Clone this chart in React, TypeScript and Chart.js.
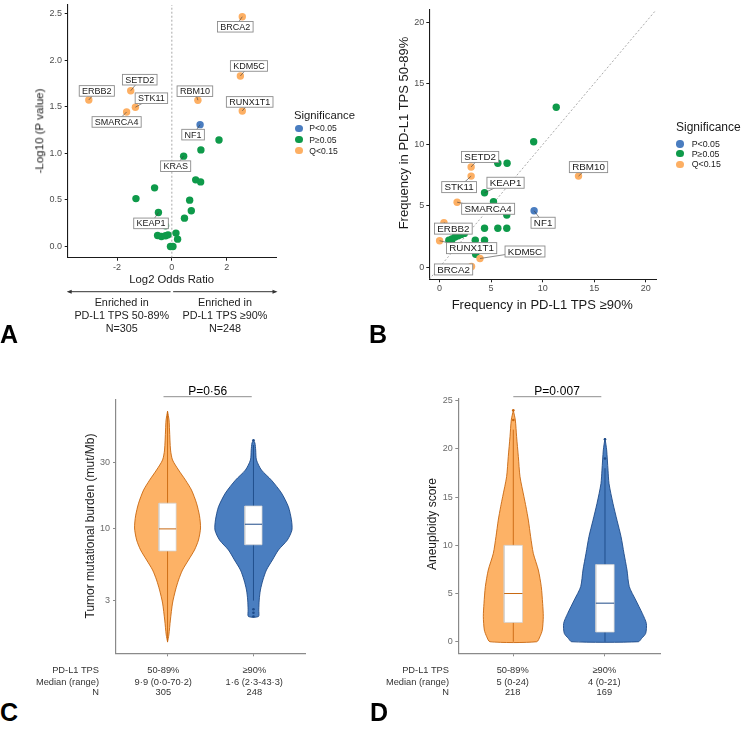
import React, { useEffect, useRef } from "react";
import { Chart, registerables } from "chart.js";

Chart.register(...registerables);

const FONT = "'Liberation Sans', Arial, Helvetica, sans-serif";

// ================= DATA =================
const SIG_LEVELS = ["P<0.05", "P≥0.05", "Q<0.15"];

// Panel A – volcano (log2 odds ratio vs -log10 P)
const A_GENE = [
  "", "", "KRAS", "", "", "", "", "", "", "KEAP1", "", "", "", "", "", "", "", "", "", "",
  "NF1",
  "BRCA2", "KDM5C", "RUNX1T1", "RBM10", "ERBB2", "SETD2", "STK11", "SMARCA4",
];
const A_LOG2_OR = [
  1.72, 1.06, 0.43, 0.87, 1.05, -0.63, -1.31, 0.65, 0.71, -0.49, 0.46, -0.23, 0.15, -0.52, -0.38, -0.23, -0.14, 0.21, -0.05, 0.04,
  1.03,
  2.57, 2.5, 2.57, 0.95, -3.03, -1.5, -1.33, -1.65,
];
const A_NEG_LOG10_P = [
  1.143, 1.036, 0.969, 0.715, 0.693, 0.629, 0.514, 0.497, 0.383, 0.364, 0.304, 0.222, 0.144, 0.118, 0.107, 0.115, 0.125, 0.079, 0.0, 0.0,
  1.307,
  2.464, 1.829, 1.454, 1.569, 1.572, 1.671, 1.494, 1.443,
];
const A_SIG = [
  1, 1, 1, 1, 1, 1, 1, 1, 1, 1, 1, 1, 1, 1, 1, 1, 1, 1, 1, 1,
  0,
  2, 2, 2, 2, 2, 2, 2, 2,
];
const A_X_RANGE = [-3.8, 3.8];
const A_Y_RANGE = [-0.12, 2.59];
const A_X_TICKS = [-2, 0, 2];
const A_X_TICK_LABELS = ["-2", "0", "2"];
const A_Y_TICKS = [0, 0.5, 1, 1.5, 2, 2.5];
const A_Y_TICK_LABELS = ["0.0", "0.5", "1.0", "1.5", "2.0", "2.5"];

// Panel B – frequency in TPS >=90% vs TPS 50-89%
const B_GENE = [
  "", "", "", "", "KEAP1", "", "", "", "", "", "", "", "", "", "", "", "", "", "", "",
  "NF1",
  "SETD2", "STK11", "RBM10", "SMARCA4", "ERBB2", "RUNX1T1", "KDM5C", "BRCA2",
];
const B_FREQ_HIGH = [
  11.32, 9.13, 5.65, 6.55, 4.36, 5.23, 6.52, 4.36, 5.65, 6.52, 3.46, 4.36, 3.5, 0.9, 1.2, 1.5, 1.8, 2.1, 2.4, 1.15,
  9.17,
  3.06, 3.06, 13.48, 1.7, 0.42, 0.0, 3.92, 3.1,
];
const B_FREQ_LOW = [
  13.06, 10.24, 8.48, 8.48, 6.07, 5.33, 4.25, 3.17, 3.17, 3.17, 2.2, 2.2, 1.05, 2.2, 2.3, 2.45, 2.55, 2.65, 2.75, 2.1,
  4.6,
  8.18, 7.43, 7.43, 5.3, 3.63, 2.15, 0.7, 0.05,
];
const B_SIG = [
  1, 1, 1, 1, 1, 1, 1, 1, 1, 1, 1, 1, 1, 1, 1, 1, 1, 1, 1, 1,
  0,
  2, 2, 2, 2, 2, 2, 2, 2,
];
const B_RANGE = [-1, 21];
const B_TICKS = [0, 5, 10, 15, 20];
const B_TICK_LABELS = ["0", "5", "10", "15", "20"];

// Panel C – TMB violins (log scale)
const C_GROUPS = ["50-89%", "≥90%"];
const C_MEDIAN_RANGE = ["9·9 (0·0-70·2)", "1·6 (2·3-43·3)"];
const C_N = ["305", "248"];
const TMB_LOW_VALUES = [70.2, 60.7, 51.4, 36.8, 31.2, 26.4, 22.3, 18.9, 15.2, 12.3, 10.05, 8.23, 6.97, 5.9, 4.99, 4.23, 3.58, 2.88, 2.17, 1.69, 1.51];
const TMB_LOW_HALF = [0, 0.017, 0.023, 0.035, 0.058, 0.128, 0.209, 0.279, 0.337, 0.372, 0.384, 0.36, 0.314, 0.244, 0.174, 0.128, 0.093, 0.058, 0.033, 0.015, 0];
const TMB_HIGH_VALUES = [43.3, 41.4, 36.8, 31.2, 26.4, 22.3, 18.0, 14.3, 11.5, 9.72, 8.23, 6.97, 5.9, 4.99, 4.23, 3.58, 3.03, 2.57, 2.3];
const TMB_HIGH_HALF = [0, 0.017, 0.026, 0.035, 0.093, 0.209, 0.326, 0.407, 0.442, 0.448, 0.395, 0.291, 0.221, 0.151, 0.11, 0.081, 0.067, 0.062, 0.058];
const TMB_BOX_LOW = [6.85, 9.9, 15.2];
const TMB_BOX_HIGH = [7.6, 10.7, 14.5];
const TMB_WHISKER_LOW = [1.5, 70.2];
const TMB_WHISKER_HIGH = [3.0, 40];
const TMB_OUTLIERS_LOW: number[] = [];
const TMB_OUTLIERS_HIGH = [43.3, 2.6, 2.45, 2.3];
const C_Y_RANGE = [1.247, 84.7];
const C_Y_TICKS = [3, 10, 30];
const C_Y_TICK_LABELS = ["3", "10", "30"];
const C_P_TEXT = "P=0·56";

// Panel D – aneuploidy violins
const D_GROUPS = ["50-89%", "≥90%"];
const D_MEDIAN_RANGE = ["5 (0-24)", "4 (0-21)"];
const D_N = ["218", "169"];
const ANEU_LOW_VALUES = [24.0, 23.0, 21.27, 19.2, 17.12, 15.05, 14.0, 12.62, 10.9, 9.17, 7.44, 5.71, 3.97, 2.6, 1.21, 0.52, 0];
const ANEU_LOW_HALF = [0, 0.022, 0.036, 0.055, 0.073, 0.116, 0.138, 0.164, 0.189, 0.218, 0.273, 0.305, 0.32, 0.327, 0.316, 0.29, 0.255];
const ANEU_HIGH_VALUES = [21.1, 19.9, 17.8, 16.4, 14.35, 12.6, 10.9, 9.17, 7.44, 5.71, 4.33, 2.94, 1.9, 0.87, 0.35, 0];
const ANEU_HIGH_HALF = [0, 0.018, 0.033, 0.044, 0.087, 0.131, 0.175, 0.207, 0.24, 0.265, 0.335, 0.407, 0.451, 0.444, 0.4, 0.364];
const ANEU_BOX_LOW = [2, 5, 10];
const ANEU_BOX_HIGH = [1, 4, 8];
const ANEU_WHISKER_LOW = [0, 22];
const ANEU_WHISKER_HIGH = [0, 18];
const ANEU_OUTLIERS_LOW = [23, 24];
const ANEU_OUTLIERS_HIGH = [19, 21];
const D_Y_RANGE = [-1.2, 25.2];
const D_Y_TICKS = [0, 5, 10, 15, 20, 25];
const D_Y_TICK_LABELS = ["0", "5", "10", "15", "20", "25"];
const D_P_TEXT = "P=0·007";

const GROUP_POS = [1, 2];
const GROUP_X_RANGE = [0.4, 2.6];

// ================= STYLE / LAYOUT =================
const SIG_COLORS = ["#4A7DC0", "#0E9A4A", "#FDAF63"];
const ORANGE_FILL = "#FDB266";
const ORANGE_LINE = "#C8670F";
const BLUE_FILL = "#4A7EC0";
const BLUE_LINE = "#1D4A88";

const A_LABEL_OFFSETS: Record<string, number[]> = {
  BRCA2: [-7, 10], KDM5C: [8.6, -10], RUNX1T1: [7.4, -9], RBM10: [-3, -9], NF1: [-7, 10],
  ERBB2: [8, -9], SETD2: [9, -11], STK11: [16, -9], SMARCA4: [-10, 10], KRAS: [-8, 10], KEAP1: [-7.4, 10.8],
};
const B_LABEL_OFFSETS: Record<string, number[]> = {
  SETD2: [9, -10], STK11: [-12, 11], KEAP1: [21, -10], SMARCA4: [31, 6.6], RBM10: [10, -9],
  NF1: [9, 12], ERBB2: [9.4, 6], RUNX1T1: [32, 7.4], KDM5C: [45, -7], BRCA2: [-18, 3],
};

type Rect = { x: number; y: number; w: number; h: number };
type Area = { l: number; t: number; r: number; b: number };

const RECT_A: Rect = { x: 0, y: 0, w: 370, h: 300 };
const AREA_A: Area = { l: 67.7, t: 5, r: 276, b: 257.7 };
const RECT_B: Rect = { x: 370, y: 0, w: 378, h: 300 };
const AREA_B: Area = { l: 429.3, t: 10, r: 656, b: 279.3 };
const RECT_C: Rect = { x: 0, y: 375, w: 370, h: 295 };
const AREA_C: Area = { l: 116, t: 400, r: 305, b: 653.3 };
const RECT_D: Rect = { x: 370, y: 375, w: 378, h: 295 };
const AREA_D: Area = { l: 458.3, t: 398.8, r: 660, b: 653.3 };

const Y_AXIS_W = 30;
const X_AXIS_H = 14;

function layoutPadding(rect: Rect, area: Area) {
  return {
    left: area.l - rect.x - Y_AXIS_W,
    top: area.t - rect.y,
    right: rect.x + rect.w - area.r,
    bottom: rect.y + rect.h - area.b - X_AXIS_H,
  };
}

function makeScale(p: {
  type?: string; position: "left" | "bottom"; range: number[]; ticks: number[]; labels: string[];
  axisColor: string; labelColor: string; fontSize: number; pad: number; axisWidth: number;
}) {
  return {
    type: p.type ?? "linear",
    position: p.position,
    min: p.range[0],
    max: p.range[1],
    afterBuildTicks: (s: any) => {
      s.ticks = p.ticks.map((v) => ({ value: v }));
    },
    afterFit: (s: any) => {
      if (p.position === "left") s.width = Y_AXIS_W;
      else s.height = X_AXIS_H;
      s.paddingTop = 0; s.paddingBottom = 0; s.paddingLeft = 0; s.paddingRight = 0;
    },
    ticks: {
      autoSkip: false, maxRotation: 0, minRotation: 0, padding: p.pad, color: p.labelColor,
      font: { size: p.fontSize, family: FONT },
      callback: (_v: any, i: number) => p.labels[i],
    },
    grid: { display: true, drawOnChartArea: false, drawTicks: true, tickLength: 3, color: p.axisColor, lineWidth: 1 },
    border: { display: true, color: p.axisColor, width: p.axisWidth },
    title: { display: false },
  };
}

function geneLabelPlugin(genes: string[], offsets: Record<string, number[]>, fontSize: number, padX: number, padY: number) {
  return {
    id: "geneLabels",
    afterDatasetsDraw(chart: any) {
      const meta = chart.getDatasetMeta(0);
      const ctx = chart.ctx as CanvasRenderingContext2D;
      ctx.save();
      ctx.font = `${fontSize}px ${FONT}`;
      genes.forEach((g, i) => {
        const off = offsets[g];
        if (!g || !off) return;
        const el = meta.data[i];
        const px = el.x, py = el.y;
        const cx = px + off[0], cy = py + off[1];
        const tw = ctx.measureText(g).width;
        const w = tw + 2 * padX, h = fontSize + 2 * padY;
        ctx.strokeStyle = "#3a3a3a";
        ctx.lineWidth = 0.6;
        ctx.beginPath();
        ctx.moveTo(px, py);
        ctx.lineTo(cx, cy);
        ctx.stroke();
        ctx.fillStyle = "#ffffff";
        ctx.fillRect(cx - w / 2, cy - h / 2, w, h);
        ctx.strokeStyle = "#8c8c8c";
        ctx.lineWidth = 0.9;
        ctx.strokeRect(cx - w / 2, cy - h / 2, w, h);
        ctx.fillStyle = "#1a1a1a";
        ctx.textAlign = "center";
        ctx.textBaseline = "middle";
        ctx.fillText(g, cx, cy + 0.5);
      });
      ctx.restore();
    },
  };
}

function arrowPlugin(yOff: number) {
  return {
    id: "enrichArrows",
    afterDraw(chart: any) {
      const ctx = chart.ctx as CanvasRenderingContext2D;
      const xs = chart.scales.x;
      const y = chart.chartArea.bottom + yOff;
      const x0 = xs.getPixelForValue(xs.min) - 1;
      const xm = xs.getPixelForValue(0);
      const x1 = xs.getPixelForValue(xs.max) + 1.5;
      ctx.save();
      ctx.strokeStyle = "#333";
      ctx.fillStyle = "#333";
      ctx.lineWidth = 1;
      ctx.beginPath();
      ctx.moveTo(x0 + 3, y); ctx.lineTo(xm - 1.3, y);
      ctx.moveTo(xm + 1.3, y); ctx.lineTo(x1 - 3, y);
      ctx.stroke();
      ctx.beginPath();
      ctx.moveTo(x0, y); ctx.lineTo(x0 + 5, y - 2); ctx.lineTo(x0 + 5, y + 2); ctx.closePath();
      ctx.moveTo(x1, y); ctx.lineTo(x1 - 5, y - 2); ctx.lineTo(x1 - 5, y + 2); ctx.closePath();
      ctx.fill();
      ctx.restore();
    },
  };
}

function bracketPlugin(v1: number, v2: number, yPx: number) {
  return {
    id: "bracket",
    afterDraw(chart: any) {
      const ctx = chart.ctx as CanvasRenderingContext2D;
      const xs = chart.scales.x;
      ctx.save();
      ctx.strokeStyle = "#8f8f8f";
      ctx.lineWidth = 1;
      ctx.beginPath();
      ctx.moveTo(xs.getPixelForValue(v1), yPx);
      ctx.lineTo(xs.getPixelForValue(v2), yPx);
      ctx.stroke();
      ctx.restore();
    },
  };
}

function pointsData(xs: number[], ys: number[]) {
  return xs.map((x, i) => ({ x, y: ys[i] }));
}

function scatterConfig(opts: {
  rect: Rect; area: Area; xs: number[]; ys: number[]; sig: number[]; genes: string[];
  offsets: Record<string, number[]>; xRange: number[]; yRange: number[];
  xTicks: number[]; xLabels: string[]; yTicks: number[]; yLabels: string[];
  refLine: { x: number; y: number }[]; labelFont: number; padX: number; padY: number; extra: any[];
}) {
  return {
    type: "scatter",
    data: {
      datasets: [
        {
          data: pointsData(opts.xs, opts.ys),
          pointRadius: 3.7,
          pointBorderWidth: 0,
          pointBackgroundColor: opts.sig.map((s) => SIG_COLORS[s]),
          backgroundColor: opts.sig.map((s) => SIG_COLORS[s]),
        },
        {
          type: "line",
          data: opts.refLine,
          borderColor: "#a0a0a0",
          borderWidth: 0.9,
          borderDash: [2, 2],
          pointRadius: 0,
          fill: false,
          tension: 0,
        },
      ],
    },
    options: {
      responsive: false,
      maintainAspectRatio: false,
      animation: false,
      devicePixelRatio: 1,
      events: [],
      layout: { padding: layoutPadding(opts.rect, opts.area) },
      plugins: { legend: { display: false }, tooltip: { enabled: false } },
      scales: {
        x: makeScale({ position: "bottom", range: opts.xRange, ticks: opts.xTicks, labels: opts.xLabels, axisColor: "#1a1a1a", labelColor: "#4d4d4d", fontSize: 9, pad: 1, axisWidth: 1.1 }),
        y: makeScale({ position: "left", range: opts.yRange, ticks: opts.yTicks, labels: opts.yLabels, axisColor: "#1a1a1a", labelColor: "#4d4d4d", fontSize: 9, pad: opts.rect.x === 0 ? 2.7 : 2, axisWidth: 1.1 }),
      },
    },
    plugins: [geneLabelPlugin(opts.genes, opts.offsets, opts.labelFont, opts.padX, opts.padY), ...opts.extra],
  };
}

function violinPoints(center: number, values: number[], half: number[]) {
  const right = values.map((v, i) => ({ x: center + half[i], y: v }));
  const left = values.map((v, i) => ({ x: center - half[i], y: v })).reverse();
  return [...right, ...left];
}

function groupDatasets(center: number, values: number[], half: number[], box: number[], whisker: number[], outliers: number[], fill: string, line: string) {
  const bw = 0.1;
  return [
    {
      data: outliers.map((v) => ({ x: center, y: v })),
      pointRadius: 1.3, pointBorderWidth: 0, pointBackgroundColor: line, backgroundColor: line, showLine: false,
    },
    {
      type: "line",
      data: [{ x: center - bw, y: box[1] }, { x: center + bw, y: box[1] }],
      borderColor: line, borderWidth: 1, pointRadius: 0, fill: false, tension: 0,
    },
    {
      type: "line",
      data: [
        { x: center - bw, y: box[0] }, { x: center + bw, y: box[0] }, { x: center + bw, y: box[2] },
        { x: center - bw, y: box[2] }, { x: center - bw, y: box[0] },
      ],
      borderColor: "#d0d0d0", borderWidth: 0.7, backgroundColor: "#ffffff", pointRadius: 0, fill: "shape", tension: 0,
    },
    {
      type: "line",
      data: [{ x: center, y: whisker[0] }, { x: center, y: whisker[1] }],
      borderColor: line, borderWidth: 0.9, pointRadius: 0, fill: false, tension: 0,
    },
    {
      type: "line",
      data: violinPoints(center, values, half),
      borderColor: line, borderWidth: 0.9, backgroundColor: fill, pointRadius: 0, fill: "shape", tension: 0.25,
    },
  ];
}

function violinConfig(opts: {
  rect: Rect; area: Area; yType: string; yRange: number[]; yTicks: number[]; yLabels: string[]; yPad: number;
  groups: any[][]; bracket: number[];
}) {
  return {
    type: "scatter",
    data: { datasets: [...opts.groups[1], ...opts.groups[0]] },
    options: {
      responsive: false,
      maintainAspectRatio: false,
      animation: false,
      devicePixelRatio: 1,
      events: [],
      layout: { padding: layoutPadding(opts.rect, opts.area) },
      plugins: { legend: { display: false }, tooltip: { enabled: false } },
      scales: {
        x: makeScale({ position: "bottom", range: GROUP_X_RANGE, ticks: GROUP_POS, labels: ["", ""], axisColor: "#8a8a8a", labelColor: "#666", fontSize: 9, pad: 1, axisWidth: 1.2 }),
        y: makeScale({ type: opts.yType, position: "left", range: opts.yRange, ticks: opts.yTicks, labels: opts.yLabels, axisColor: "#8a8a8a", labelColor: "#6b6b6b", fontSize: 9, pad: opts.yPad, axisWidth: 1.2 }),
      },
    },
    plugins: [bracketPlugin(opts.bracket[0], opts.bracket[1], opts.bracket[2] - opts.rect.y)],
  };
}

function ChartCanvas({ rect, build }: { rect: Rect; build: () => any }) {
  const ref = useRef<HTMLCanvasElement>(null);
  useEffect(() => {
    const chart = new Chart(ref.current as HTMLCanvasElement, build());
    return () => chart.destroy();
  }, []);
  return (
    <canvas
      ref={ref}
      width={rect.w}
      height={rect.h}
      style={{ position: "absolute", left: rect.x, top: rect.y, width: rect.w, height: rect.h }}
    />
  );
}

function Txt({ x, y, s, text, a = "c", c = "#1a1a1a", b = false, rot = false }: {
  x: number; y: number; s: number; text: string; a?: "l" | "c" | "r"; c?: string; b?: boolean; rot?: boolean;
}) {
  const tx = a === "l" ? "0" : a === "r" ? "-100%" : "-50%";
  return (
    <div
      style={{
        position: "absolute", left: x, top: y, fontSize: s, fontFamily: FONT, color: c,
        fontWeight: b ? 700 : 400, whiteSpace: "nowrap", lineHeight: 1,
        transform: rot ? "translate(-50%,-50%) rotate(-90deg)" : `translate(${tx},-50%)`,
      }}
    >
      {text}
    </div>
  );
}

function Legend({ tx, ty, ts, dx, dys, lx, ls }: { tx: number; ty: number; ts: number; dx: number; dys: number[]; lx: number; ls: number }) {
  return (
    <>
      <Txt x={tx} y={ty} s={ts} text="Significance" a="l" />
      {SIG_LEVELS.map((lv, i) => (
        <React.Fragment key={lv}>
          <div style={{ position: "absolute", left: dx - 3.7, top: dys[i] - 3.7, width: 7.4, height: 7.4, borderRadius: "50%", background: SIG_COLORS[i] }} />
          <Txt x={lx} y={dys[i]} s={ls} text={lv} a="l" c="#222" />
        </React.Fragment>
      ))}
    </>
  );
}

function Table({ rx, cx, groups, med, n }: { rx: number; cx: number[]; groups: string[]; med: string[]; n: string[] }) {
  const ys = [671, 682.7, 693.3];
  const s = 9.3;
  const col = "#333";
  return (
    <>
      <Txt x={rx} y={ys[0]} s={s} a="r" c={col} text="PD-L1 TPS" />
      <Txt x={rx} y={ys[1]} s={s} a="r" c={col} text="Median (range)" />
      <Txt x={rx} y={ys[2]} s={s} a="r" c={col} text="N" />
      {groups.map((g, i) => (
        <React.Fragment key={g}>
          <Txt x={cx[i]} y={ys[0]} s={s} c={col} text={g} />
          <Txt x={cx[i]} y={ys[1]} s={s} c={col} text={med[i]} />
          <Txt x={cx[i]} y={ys[2]} s={s} c={col} text={n[i]} />
        </React.Fragment>
      ))}
    </>
  );
}

export default function App() {
  useEffect(() => {
    document.body.style.margin = "0";
  }, []);

  const buildA = () =>
    scatterConfig({
      rect: RECT_A, area: AREA_A, xs: A_LOG2_OR, ys: A_NEG_LOG10_P, sig: A_SIG, genes: A_GENE, offsets: A_LABEL_OFFSETS,
      xRange: A_X_RANGE, yRange: A_Y_RANGE, xTicks: A_X_TICKS, xLabels: A_X_TICK_LABELS, yTicks: A_Y_TICKS, yLabels: A_Y_TICK_LABELS,
      refLine: [{ x: 0, y: A_Y_RANGE[0] }, { x: 0, y: A_Y_RANGE[1] }], labelFont: 9, padX: 2.8, padY: 0.8,
      extra: [arrowPlugin(34)],
    });

  const buildB = () =>
    scatterConfig({
      rect: RECT_B, area: AREA_B, xs: B_FREQ_HIGH, ys: B_FREQ_LOW, sig: B_SIG, genes: B_GENE, offsets: B_LABEL_OFFSETS,
      xRange: B_RANGE, yRange: B_RANGE, xTicks: B_TICKS, xLabels: B_TICK_LABELS, yTicks: B_TICKS, yLabels: B_TICK_LABELS,
      refLine: [{ x: B_RANGE[0], y: B_RANGE[0] }, { x: B_RANGE[1], y: B_RANGE[1] }], labelFont: 9.8, padX: 2.8, padY: 0.6,
      extra: [],
    });

  const buildC = () =>
    violinConfig({
      rect: RECT_C, area: AREA_C, yType: "logarithmic", yRange: C_Y_RANGE, yTicks: C_Y_TICKS, yLabels: C_Y_TICK_LABELS, yPad: 3,
      groups: [
        groupDatasets(GROUP_POS[0], TMB_LOW_VALUES, TMB_LOW_HALF, TMB_BOX_LOW, TMB_WHISKER_LOW, TMB_OUTLIERS_LOW, ORANGE_FILL, ORANGE_LINE),
        groupDatasets(GROUP_POS[1], TMB_HIGH_VALUES, TMB_HIGH_HALF, TMB_BOX_HIGH, TMB_WHISKER_HIGH, TMB_OUTLIERS_HIGH, BLUE_FILL, BLUE_LINE),
      ],
      bracket: [0.953, 1.98, 396.7],
    });

  const buildD = () =>
    violinConfig({
      rect: RECT_D, area: AREA_D, yType: "linear", yRange: D_Y_RANGE, yTicks: D_Y_TICKS, yLabels: D_Y_TICK_LABELS, yPad: 2.6,
      groups: [
        groupDatasets(GROUP_POS[0], ANEU_LOW_VALUES, ANEU_LOW_HALF, ANEU_BOX_LOW, ANEU_WHISKER_LOW, ANEU_OUTLIERS_LOW, ORANGE_FILL, ORANGE_LINE),
        groupDatasets(GROUP_POS[1], ANEU_HIGH_VALUES, ANEU_HIGH_HALF, ANEU_BOX_HIGH, ANEU_WHISKER_HIGH, ANEU_OUTLIERS_HIGH, BLUE_FILL, BLUE_LINE),
      ],
      bracket: [1.0, 1.96, 396.7],
    });

  return (
    <div style={{ position: "relative", width: 748, height: 739, background: "#fff", overflow: "hidden" }}>
      <ChartCanvas rect={RECT_A} build={buildA} />
      <ChartCanvas rect={RECT_B} build={buildB} />
      <ChartCanvas rect={RECT_C} build={buildC} />
      <ChartCanvas rect={RECT_D} build={buildD} />

      {/* Panel A texts */}
      <Txt x={40} y={130.8} s={11.5} rot text="-Log10 (P value)" />
      <Txt x={171.7} y={280} s={11.3} text="Log2 Odds Ratio" />
      <Txt x={121.7} y={301.7} s={10.8} c="#222" text="Enriched in" />
      <Txt x={121.7} y={315} s={10.8} c="#222" text="PD-L1 TPS 50-89%" />
      <Txt x={121.7} y={327.7} s={10.8} c="#222" text="N=305" />
      <Txt x={225} y={301.7} s={10.8} c="#222" text="Enriched in" />
      <Txt x={225} y={315} s={10.8} c="#222" text="PD-L1 TPS ≥90%" />
      <Txt x={225} y={327.7} s={10.8} c="#222" text="N=248" />
      <Legend tx={294} ty={116} ts={11.3} dx={299} dys={[128.3, 139.7, 150.7]} lx={309.3} ls={8.6} />
      <Txt x={0} y={334} s={25} b a="l" c="#000" text="A" />

      {/* Panel B texts */}
      <Txt x={403.3} y={133.3} s={13} rot text="Frequency in PD-L1 TPS 50-89%" />
      <Txt x={542.2} y={304} s={13} text="Frequency in PD-L1 TPS ≥90%" />
      <Legend tx={676} ty={127} ts={12} dx={680} dys={[144, 153.7, 164.3]} lx={691.7} ls={8.8} />
      <Txt x={369} y={334} s={25} b a="l" c="#000" text="B" />

      {/* Panel C texts */}
      <Txt x={90} y={525.8} s={12} rot text="Tumor mutational burden (mut/Mb)" />
      <Txt x={207.7} y={390.7} s={12} c="#000" text={C_P_TEXT} />
      <Table rx={99} cx={[163.3, 254.3]} groups={C_GROUPS} med={C_MEDIAN_RANGE} n={C_N} />
      <Txt x={0} y={711.7} s={25} b a="l" c="#000" text="C" />

      {/* Panel D texts */}
      <Txt x={431.7} y={524.3} s={12} rot text="Aneuploidy score" />
      <Txt x={557} y={390.7} s={12} c="#000" text={D_P_TEXT} />
      <Table rx={449} cx={[512.7, 604.3]} groups={D_GROUPS} med={D_MEDIAN_RANGE} n={D_N} />
      <Txt x={370} y={711.7} s={25} b a="l" c="#000" text="D" />
    </div>
  );
}
